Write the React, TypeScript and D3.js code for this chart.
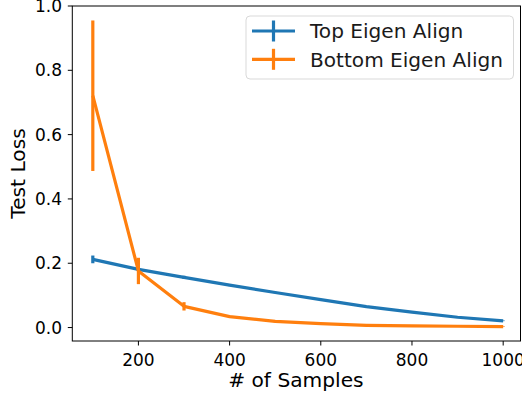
import React from "react";
import * as d3 from "d3";

const samples = [100, 200, 300, 400, 500, 600, 700, 800, 900, 1000];
const topMean = [0.212, 0.181, 0.156, 0.132, 0.109, 0.087, 0.065, 0.048, 0.032, 0.021];
const topErr = [0.012, 0.004, 0.005, 0.003, 0.002, 0.002, 0.002, 0.002, 0.001, 0.001];
const bottomMean = [0.721, 0.176, 0.066, 0.034, 0.019, 0.012, 0.007, 0.005, 0.004, 0.003];
const bottomErr = [0.234, 0.041, 0.013, 0.003, 0.002, 0.001, 0.001, 0.001, 0.001, 0.001];
const xTicks = [200, 400, 600, 800, 1000];
const yTicks = [0.0, 0.2, 0.4, 0.6, 0.8, 1.0];
const seriesNames = ["Top Eigen Align", "Bottom Eigen Align"];
const colors = ["#1f77b4", "#ff7f0e"];

export default function App() {
  const W = 522, H = 396;
  const left = 72.3, right = 520.5, top = 6, bottom = 341;
  const x = d3.scaleLinear().domain([55, 1038]).range([left, right]);
  const y = d3.scaleLinear().domain([-0.0418, 1.0]).range([bottom, top]);
  const font = "DejaVu Sans, sans-serif";
  const series = [
    { name: seriesNames[0], mean: topMean, err: topErr, color: colors[0] },
    { name: seriesNames[1], mean: bottomMean, err: bottomErr, color: colors[1] },
  ];
  const line = d3.line<[number, number]>().x((d) => x(d[0])).y((d) => y(d[1]));
  return (
    <svg width={W} height={H} style={{ position: "absolute", left: 0, top: 0 }}>
      <rect x={0} y={0} width={W} height={H} fill="white" />
      {series.map((s, i) => (
        <g key={i}>
          <path
            d={line(samples.map((v, j) => [v, s.mean[j]]) as [number, number][]) || ""}
            fill="none"
            stroke={s.color}
            strokeWidth={3.2}
            strokeLinejoin="round"
            strokeLinecap="butt"
          />
          {samples.map((v, j) => (
            <line
              key={j}
              x1={x(v)}
              x2={x(v)}
              y1={y(s.mean[j] - s.err[j])}
              y2={y(s.mean[j] + s.err[j])}
              stroke={s.color}
              strokeWidth={3.2}
            />
          ))}
        </g>
      ))}
      {/* spines */}
      <rect x={left} y={top} width={right - left} height={bottom - top} fill="none" stroke="#000" strokeWidth={1} />
      {xTicks.map((t) => (
        <g key={t}>
          <line x1={x(t)} x2={x(t)} y1={bottom} y2={bottom + 4.5} stroke="#000" strokeWidth={1} />
          <text x={x(t)} y={365.5} textAnchor="middle" fontFamily={font} fontSize={17} fill="#000">
            {t}
          </text>
        </g>
      ))}
      {yTicks.map((t) => (
        <g key={t}>
          <line x1={left - 4.5} x2={left} y1={y(t)} y2={y(t)} stroke="#000" strokeWidth={1} />
          <text x={62} y={y(t) + 6} textAnchor="end" fontFamily={font} fontSize={17} fill="#000">
            {t.toFixed(1)}
          </text>
        </g>
      ))}
      <text x={(left + right) / 2 - 0.5} y={387} textAnchor="middle" fontFamily={font} fontSize={20.2} fill="#000">
        # of Samples
      </text>
      <text
        transform={`translate(25,${(top + bottom) / 2}) rotate(-90)`}
        textAnchor="middle"
        fontFamily={font}
        fontSize={20.2}
        fill="#000"
      >
        Test Loss
      </text>
      {/* legend */}
      <rect x={246} y={16} width={267.5} height={63} rx={4} fill="white" fillOpacity={0.8} stroke="#d9d9d9" strokeWidth={1} />
      {series.map((s, i) => {
        const ly = 31 + i * 28.3;
        return (
          <g key={i}>
            <line x1={252} x2={295} y1={ly} y2={ly} stroke={s.color} strokeWidth={3.2} />
            <line x1={273.5} x2={273.5} y1={ly - 10.5} y2={ly + 10.5} stroke={s.color} strokeWidth={3.2} />
            <text x={310} y={ly + 7.2} fontFamily={font} fontSize={20.1} fill="#1a1a1a">
              {s.name}
            </text>
          </g>
        );
      })}
    </svg>
  );
}
